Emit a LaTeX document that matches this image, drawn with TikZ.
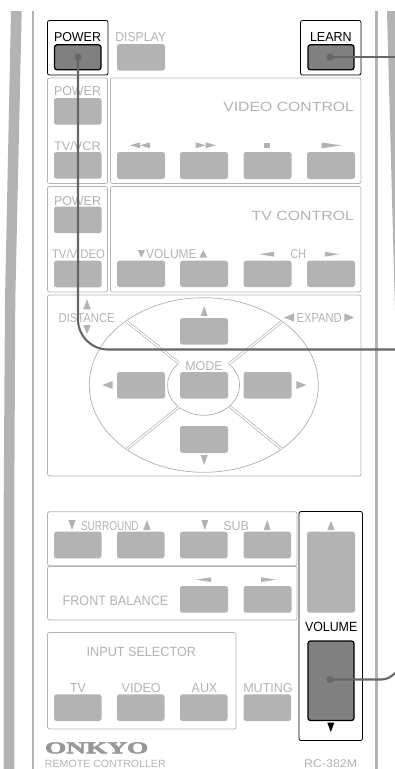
\documentclass[tikz,border=0pt]{standalone}
\usepackage{graphicx}
\usepackage{fontspec}
\setmainfont{Liberation Sans}
\newfontfamily\logofont{Liberation Serif}[BoldFeatures={FakeBold=2.5}]
\definecolor{gk}{HTML}{B3B3B3}
\definecolor{dk}{HTML}{808080}
\definecolor{cn}{HTML}{666666}
\newcommand{\fit}[3]{\resizebox{#1pt}{#2pt}{#3}}
\tikzset{
  frame/.style={draw=gk,line width=0.75pt,rounded corners=2pt},
  blackframe/.style={draw=black,line width=0.8pt,rounded corners=2pt},
  btn/.style={fill=gk,rounded corners=2.5pt},
  btnon/.style={fill=dk,draw=black,line width=1.3pt,rounded corners=2.5pt},
  lab/.style={anchor=base west,inner sep=0pt,outer sep=0pt,text=gk},
  labk/.style={anchor=base west,inner sep=0pt,outer sep=0pt,text=black},
  tri/.style={fill=gk},
  divider/.style={draw=gk,double=white,double distance=1.4pt,line width=0.7pt},
  conn/.style={draw=cn,line width=2.1pt},
  dot/.style={circle,fill=cn,inner sep=0pt,minimum size=7pt}
}
\begin{document}
\begin{tikzpicture}[x=1pt,y=-1pt]
\useasboundingbox (0,0) rectangle (395,769);
% casing
\fill[gk] (11,11) -- (21.7,11) -- (15.3,300) -- (14.3,500) -- (14.3,769) -- (3.7,769) -- (3.7,500) -- (5,300) -- cycle;
\fill[gk] (31.5,11) rectangle (34,769);
\fill[gk] (375,11) rectangle (378,769);
\fill[gk] (387,11) -- (395,11) -- (395,310) -- cycle;
% frames
\draw[frame] (47.5,78) rectangle (107.5,183.5);
\draw[frame] (110.5,78) rectangle (361,183.5);
\draw[frame] (47.5,186.5) rectangle (107.5,292);
\draw[frame] (110.5,186.5) rectangle (361,292);
\draw[frame] (47.5,295) rectangle (361,476);
\draw[frame] (47.5,511.7) rectangle (297,565.7);
\draw[frame] (47.5,566.5) rectangle (297,620);
\draw[frame] (47.5,632.5) rectangle (236,729);
\draw[blackframe] (47.5,20.5) rectangle (108,75);
\draw[blackframe] (300.5,20.5) rectangle (361,75);
\draw[blackframe] (299,511.5) rectangle (362.5,740.5);
% pad
\draw[frame,rounded corners=0pt] (203.8,385) ellipse [x radius=114.5pt,y radius=87.3pt];
\draw[draw=gk,line width=0.75pt] (179,363.3) arc [start angle=133,end angle=407,x radius=36pt,y radius=30pt];
\draw[divider] (127,321.7) -- (179,363.3);
\draw[divider] (281.7,321.7) -- (230,363.3);
\draw[divider] (127,449) -- (179.3,406.7);
\draw[divider] (281.7,449) -- (230,406.7);
% buttons
\fill[btn] (117,44) rectangle (165,70.5);
\foreach \y in {98,152,206.5,260.7} \fill[btn] (54,\y) rectangle (101.5,\y+26.7);
\foreach \x in {117,180,243.5,307} {
  \fill[btn] (\x,152) rectangle (\x+48,179);
  \fill[btn] (\x,260.7) rectangle (\x+48,287);
}
\fill[btn] (180,318) rectangle (228,344.5);
\fill[btn] (117,372) rectangle (165,398.7);
\fill[btn] (180,372) rectangle (228,398.7);
\fill[btn] (243.5,372) rectangle (291.5,398.7);
\fill[btn] (180,426) rectangle (228,453);
\foreach \x in {54,117,180,243.5} {
  \fill[btn] (\x,531.7) rectangle (\x+47.5,558.4);
  \fill[btn] (\x,694.3) rectangle (\x+47.5,721);
}
\fill[btn] (180,586) rectangle (228,612.7);
\fill[btn] (243.5,586) rectangle (291.5,612.7);
\fill[btn] (307,531.7) rectangle (355,612.7);
\draw[btnon] (54.5,44.8) rectangle (101,69.8);
\draw[btnon] (308,44.8) rectangle (354,69.8);
\draw[btnon] (308,641) rectangle (354,720.5);
% texts
\node[labk] (tpower) at (54,41.5) {\fit{47}{9}{POWER}};
\node[lab] (tdisplay) at (115.3,41.5) {\fit{50.7}{9}{DISPLAY}};
\node[labk] (tlearn) at (310,41.5) {\fit{41.7}{9}{LEARN}};
\node[lab] (tpower2) at (54,95.7) {\fit{47}{9}{POWER}};
\node[lab] (tvideoc) at (223.3,111) {\fit{130.7}{9.3}{VIDEO CONTROL}};
\node[lab] (ttvvcr) at (54,150.3) {\fit{47}{9}{TV/VCR}};
\node[lab] (tpower3) at (54,205) {\fit{47}{9}{POWER}};
\node[lab] (ttvc) at (251.7,220) {\fit{102.3}{9.3}{TV CONTROL}};
\node[lab] (ttvvideo) at (52,258.3) {\fit{53}{9}{TV/VIDEO}};
\node[lab] (tvol) at (146,258.3) {\fit{50.7}{9}{VOLUME}};
\node[lab] (tch) at (290.7,258.3) {\fit{15.3}{9}{CH}};
\node[lab] (tdist) at (58.7,322.3) {\fit{56}{9}{DISTANCE}};
\node[lab] (texpand) at (296.7,322.3) {\fit{45}{9}{EXPAND}};
\node[lab] (tmode) at (185.3,370.3) {\fit{37.4}{9}{MODE}};
\node[lab] (tsurr) at (81,530) {\fit{57.7}{9}{SURROUND}};
\node[lab] (tsub) at (223.3,530) {\fit{25.7}{9}{SUB}};
\node[lab] (tfront) at (62.7,605) {\fit{105.6}{9.5}{FRONT BALANCE}};
\node[labk] (tvolk) at (305,631) {\fit{52.3}{9.3}{VOLUME}};
\node[lab] (tinput) at (86.7,656) {\fit{109.3}{9.3}{INPUT SELECTOR}};
\node[lab] (ttv) at (70,692.7) {\fit{15.7}{9}{TV}};
\node[lab] (tvideo) at (121.7,692.7) {\fit{39}{9}{VIDEO}};
\node[lab] (taux) at (191.7,692.7) {\fit{25.6}{9}{AUX}};
\node[lab] (tmuting) at (243.3,692.7) {\fit{49.4}{9}{MUTING}};
\node[lab,text=gk!85!black] (tonkyo) at (45,753.3) {\fit{103.3}{11}{\logofont\bfseries ONKYO}};
\node[lab] (tremote) at (45,767.3) {\fit{120.7}{7.3}{REMOTE CONTROLLER}};
\node[lab] (trc) at (304,767.3) {\fit{53.3}{7.8}{RC-382M}};
% triangles
\fill[tri] (150,142.3) -- (150,148.3) -- (140,145.3) -- cycle;
\fill[tri] (140,142.3) -- (140,148.3) -- (130,145.3) -- cycle;
\fill[tri] (195.7,142.3) -- (195.7,148.3) -- (205.7,145.3) -- cycle;
\fill[tri] (205.7,142.3) -- (205.7,148.3) -- (215.7,145.3) -- cycle;
\fill[tri] (264.3,142.7) rectangle (270.3,148.3);
\fill[tri] (321.7,142.5) -- (321.7,148.3) -- (341.7,145.4) -- cycle;
\fill[tri] (137.7,250) -- (145,250) -- (141.4,257.7) -- cycle;
\fill[tri] (199.3,257.7) -- (207.3,257.7) -- (203.3,250) -- cycle;
\fill[tri] (274,251.7) -- (274,256.7) -- (259.3,254.2) -- cycle;
\fill[tri] (325,251.7) -- (325,256.7) -- (339.3,254.2) -- cycle;
\fill[tri] (83.3,309.3) -- (90.7,309.3) -- (87,299.3) -- cycle;
\fill[tri] (83.3,325) -- (90.7,325) -- (87,334) -- cycle;
\fill[tri] (294,313.3) -- (294,321.7) -- (284,317.5) -- cycle;
\fill[tri] (344.3,313.3) -- (344.3,321.7) -- (354.3,317.5) -- cycle;
\fill[tri] (200.7,316) -- (207.7,316) -- (204.2,306) -- cycle;
\fill[tri] (200.7,455) -- (207.7,455) -- (204.2,465) -- cycle;
\fill[tri] (112.7,381) -- (112.7,389) -- (102.3,385) -- cycle;
\fill[tri] (296.3,381) -- (296.3,389) -- (306.3,385) -- cycle;
\fill[tri] (68.3,520) -- (75.7,520) -- (72,530) -- cycle;
\fill[tri] (143.3,530) -- (150.7,530) -- (147,520) -- cycle;
\fill[tri] (201.3,520) -- (208.3,520) -- (204.8,530) -- cycle;
\fill[tri] (263.7,530) -- (270.7,530) -- (267.2,520) -- cycle;
\fill[tri] (211,577.3) -- (211,582) -- (196,579.6) -- cycle;
\fill[tri] (261,577.3) -- (261,582) -- (276,579.6) -- cycle;
\fill[tri] (327.3,530) -- (334.7,530) -- (331,521) -- cycle;
\fill[black] (327.3,722.7) -- (334.3,722.7) -- (330.8,732) -- cycle;
% connectors
\node[dot] (dpower) at (78,57) {};
\node[dot] (dlearn) at (330,57) {};
\node[dot] (dvol) at (330,679.5) {};
\coordinate (epower) at (395,349.5);
\coordinate (elearn) at (395,57);
\coordinate (evol) at (395,673);
\draw[conn,rounded corners=30pt] (dpower.center) |- (epower);
\draw[conn] (dlearn.center) -- (elearn);
\draw[conn] (dvol.center) -- (381,679.5) .. controls (387,679.5) and (391,677) .. (evol);
\end{tikzpicture}
\end{document}
